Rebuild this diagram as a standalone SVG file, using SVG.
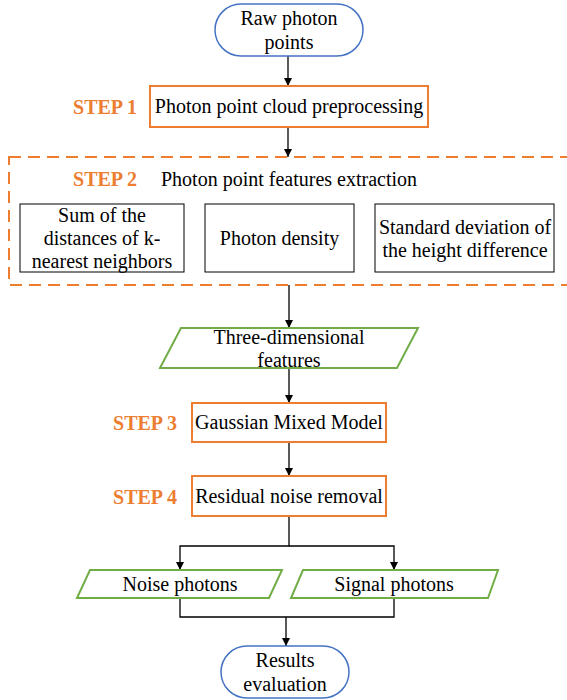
<svg xmlns="http://www.w3.org/2000/svg" width="567" height="700" viewBox="0 0 567 700">
<defs>
<marker id="ah" viewBox="0 0 10 10" refX="10" refY="5" markerWidth="8" markerHeight="8" markerUnits="userSpaceOnUse" orient="auto">
<path d="M0,0 L10,5 L0,10 z" fill="#000"/>
</marker>
<style>
text{font-size:20px;fill:#000;text-anchor:middle;dominant-baseline:central}
.step{font-weight:bold;fill:#ED7D31}
.term{fill:#fff;stroke:#4472C4;stroke-width:1.5}
.proc{fill:#fff;stroke:#ED7D31;stroke-width:2}
.data{fill:#fff;stroke:#70AD47;stroke-width:2}
.feat{fill:#fff;stroke:#000;stroke-width:1}
.conn{fill:none;stroke:#000;stroke-width:1.3}
</style>
</defs>
<rect width="567" height="700" fill="#fff"/>
<g id="connectors">
<line class="conn" x1="288" y1="56" x2="288" y2="86" marker-end="url(#ah)"/>
<line class="conn" x1="288" y1="127" x2="288" y2="157" marker-end="url(#ah)"/>
<line class="conn" x1="289" y1="285" x2="289" y2="328" marker-end="url(#ah)"/>
<line class="conn" x1="289" y1="368" x2="289" y2="403" marker-end="url(#ah)"/>
<line class="conn" x1="289" y1="442" x2="289" y2="476" marker-end="url(#ah)"/>
<polyline class="conn" points="289,516 289,546 180,546 180,570" marker-end="url(#ah)"/>
<polyline class="conn" points="289,546 394,546 394,570" marker-end="url(#ah)"/>
<polyline class="conn" points="180,598 180,617 394,617 394,598"/>
<line class="conn" x1="286" y1="617" x2="286" y2="646" marker-end="url(#ah)"/>
</g>
<g font-family="'Liberation Serif', 'DejaVu Serif', serif">
<g id="raw">
<rect class="term" x="215" y="4" width="148" height="52" rx="26"/>
<text x="289" y="18">Raw photon</text>
<text x="289" y="42">points</text>
</g>
<g id="step1">
<text class="step" x="105" y="107">STEP 1</text>
<rect class="proc" x="150" y="86" width="278" height="41"/>
<text x="289" y="106">Photon point cloud preprocessing</text>
</g>
<g id="step2">
<rect x="9" y="157" width="560" height="128" fill="none" stroke="#ED7D31" stroke-width="2" stroke-dasharray="12,7"/>
<text class="step" x="105" y="179">STEP 2</text>
<text x="289" y="179">Photon point features extraction</text>
</g>
<g id="knn">
<rect class="feat" x="20" y="204" width="164" height="68"/>
<text x="102" y="215">Sum of the</text>
<text x="102" y="238">distances of  k-</text>
<text x="102" y="261">nearest neighbors</text>
</g>
<g id="density">
<rect class="feat" x="205" y="204" width="149" height="68"/>
<text x="279.5" y="238">Photon density</text>
</g>
<g id="stddev">
<rect class="feat" x="375" y="204" width="179" height="68"/>
<text x="465" y="227" font-size="19.5">Standard deviation of</text>
<text x="465" y="250" font-size="19.5">the height difference</text>
</g>
<g id="features3d">
<polygon class="data" points="181,328 418,328 397,368 160,368"/>
<text x="289" y="337">Three-dimensional</text>
<text x="289" y="360">features</text>
</g>
<g id="step3">
<text class="step" x="145" y="423">STEP 3</text>
<rect class="proc" x="192" y="403" width="194" height="39"/>
<text x="289" y="422">Gaussian Mixed Model</text>
</g>
<g id="step4">
<text class="step" x="145" y="497">STEP 4</text>
<rect class="proc" x="192" y="476" width="194" height="40"/>
<text x="289" y="496">Residual noise removal</text>
</g>
<g id="noise">
<polygon class="data" points="90,570 282,570 269,598 77,598"/>
<text x="180" y="584">Noise photons</text>
</g>
<g id="signal">
<polygon class="data" points="303,570 498,570 488,598 291,598"/>
<text x="394" y="584">Signal photons</text>
</g>
<g id="results">
<rect class="term" x="221" y="646" width="128" height="52" rx="26"/>
<text x="285" y="660">Results</text>
<text x="285" y="684">evaluation</text>
</g>
</g>
</svg>
